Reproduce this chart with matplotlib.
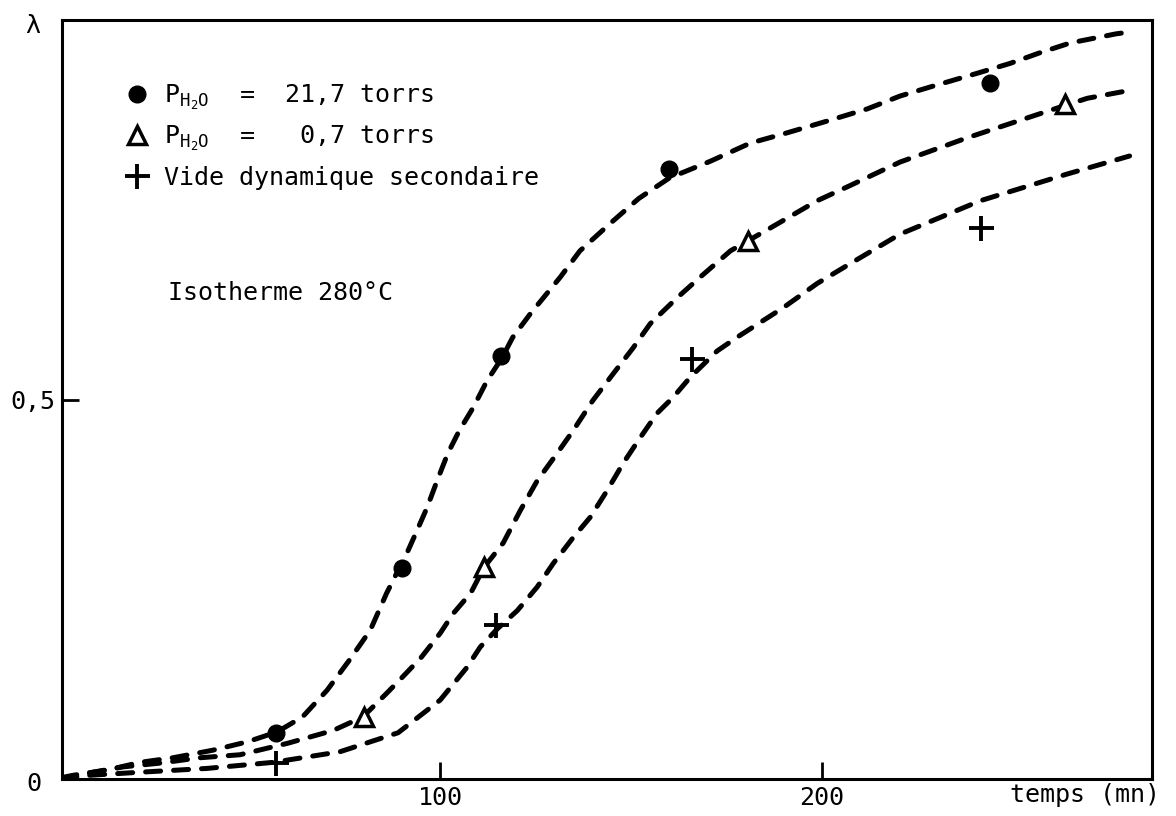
'''
Isotherme 280 C : taux de reaction lambda en fonction du temps
'''
import matplotlib
matplotlib.use('Agg')
import matplotlib.pyplot as plt

plt.rcParams['font.family'] = 'DejaVu Sans Mono'
plt.rcParams['mathtext.fontset'] = 'custom'
plt.rcParams['mathtext.rm'] = 'DejaVu Sans Mono'
plt.rcParams['mathtext.it'] = 'DejaVu Sans Mono'

# measured points (temps en mn, lambda)
t_h2o_21 = [57, 90, 116, 160, 244]
l_h2o_21 = [0.061, 0.278, 0.557, 0.804, 0.917]

t_h2o_07 = [80, 111.5, 180.5, 263.5]
l_h2o_07 = [0.082, 0.279, 0.709, 0.889]

t_vide = [57, 114.5, 166, 241.5]
l_vide = [0.021, 0.203, 0.553, 0.726]

# dashed fitted curves
curve1_t = [1, 4, 13, 21.5, 30, 40.5, 49.5, 57.3, 64, 70.4, 76, 81.7, 86, 91.6, 94, 96.6,
            99.2, 102, 105, 108.6, 112.3, 116.2, 119, 123.6, 131.4, 136.6, 144.5, 152,
            160, 170.7, 181.2, 189.8, 201.3, 211.8, 220.4, 229, 240.6, 249.2, 257, 265,
            277, 280]
curve1_l = [0.002, 0.005, 0.012, 0.022, 0.028, 0.038, 0.049, 0.062, 0.082, 0.117, 0.155,
            0.196, 0.245, 0.301, 0.328, 0.358, 0.393, 0.429, 0.459, 0.489, 0.525, 0.555,
            0.582, 0.613, 0.661, 0.696, 0.732, 0.765, 0.792, 0.814, 0.838, 0.850, 0.867,
            0.883, 0.900, 0.913, 0.930, 0.943, 0.957, 0.970, 0.982, 0.984]

curve2_t = [1, 8, 17, 26.7, 37, 47.6, 60, 72, 79.8, 86, 89.5, 95, 100, 103.4, 108, 111.5,
            116.5, 121, 125.4, 130.6, 134.8, 140, 145.3, 150.5, 155, 162, 168, 176,
            186.4, 198.7, 207.3, 220.4, 238, 259, 269.4, 280]
curve2_l = [0.001, 0.008, 0.016, 0.021, 0.028, 0.032, 0.047, 0.064, 0.082, 0.113, 0.131,
            0.160, 0.192, 0.218, 0.245, 0.279, 0.311, 0.354, 0.393, 0.429, 0.459, 0.499,
            0.534, 0.568, 0.600, 0.634, 0.661, 0.696, 0.726, 0.762, 0.782, 0.813, 0.845,
            0.880, 0.897, 0.907]

curve3_t = [1, 8.4, 21.5, 39, 56.3, 73.8, 89, 100, 107, 110.5, 115, 120.2, 125.4, 129.6,
            134.8, 139.3, 143.7, 147.9, 152.4, 156.8, 161, 165.4, 172.5, 177.7, 189.8,
            198.7, 207.3, 220.4, 241.4, 264, 280.5]
curve3_l = [0.0, 0.005, 0.009, 0.014, 0.022, 0.036, 0.061, 0.104, 0.147, 0.174, 0.198,
            0.222, 0.253, 0.284, 0.318, 0.345, 0.380, 0.416, 0.450, 0.482, 0.503, 0.529,
            0.564, 0.582, 0.621, 0.653, 0.679, 0.718, 0.762, 0.797, 0.821]

labels = [r'P$_{\mathrm{H}_2\mathrm{O}}$  =  21,7 torrs',
          r'P$_{\mathrm{H}_2\mathrm{O}}$  =   0,7 torrs',
          'Vide dynamique secondaire']

fig = plt.figure(figsize=(11.76, 8.16), dpi=100)
ax = fig.add_axes([0.0527, 0.0453, 0.927, 0.930])

dash = dict(color='black', lw=3.6, linestyle=(0, (3.0, 2.6)), dash_capstyle='round')
ax.plot(curve1_t, curve1_l, **dash)
ax.plot(curve2_t, curve2_l, **dash)
ax.plot(curve3_t, curve3_l, **dash)

p1, = ax.plot(t_h2o_21, l_h2o_21, 'o', color='black', ms=12, ls='none', zorder=5)
p2, = ax.plot(t_h2o_07, l_h2o_07, '^', mfc='white', mec='black', mew=2.5, ms=13,
              ls='none', zorder=5)
p3, = ax.plot(t_vide, l_vide, '+', color='black', mew=2.8, ms=18, ls='none', zorder=5)

ax.legend([p1, p2, p3], labels, loc='upper left', bbox_to_anchor=(0.057, 0.918),
          frameon=False, fontsize=18, handlelength=1.0, handletextpad=0.6,
          borderpad=0, borderaxespad=0, labelspacing=0.5)

ax.set_xlim(1, 286.4)
ax.set_ylim(0, 1.0)
ax.set_xticks([100, 200])
ax.set_yticks([0.5])
ax.set_yticklabels(['0,5'])
ax.tick_params(direction='in', length=12, width=2, labelsize=18, pad=5)

for s in ax.spines.values():
    s.set_linewidth(2.2)

ax.text(-0.0257, -0.007, '0', transform=ax.transAxes, ha='center', va='center', fontsize=18)
ax.text(-0.027, 0.992, 'λ', transform=ax.transAxes, ha='center', va='center', fontsize=18)
ax.text(1.007, -0.021, 'temps (mn)', transform=ax.transAxes, ha='right', va='center',
        fontsize=18)
ax.text(0.0972, 0.640, 'Isotherme 280°C', transform=ax.transAxes, ha='left', va='center',
        fontsize=18)

fig.savefig('out.png', dpi=100)
